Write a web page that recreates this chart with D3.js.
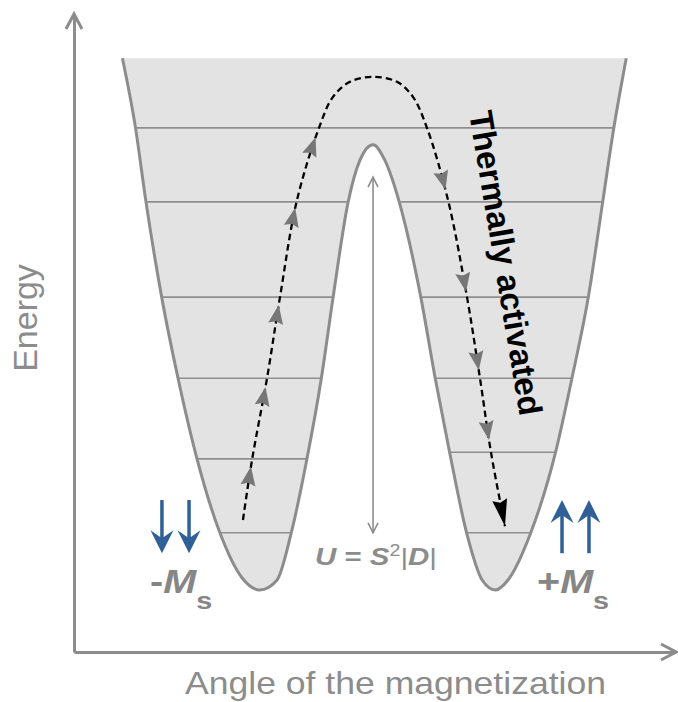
<!DOCTYPE html>
<html>
<head>
<meta charset="utf-8">
<script src="https://cdn.jsdelivr.net/npm/d3@7"></script>
<style>
  html, body { margin: 0; padding: 0; background: #fff; }
  svg { display: block; }
</style>
</head>
<body>
<svg id="chart" width="678" height="702"></svg>
<script>
// Double-well anisotropy potential: energy versus magnetization angle.

// Outline of the potential (angle in degrees, energy in arbitrary units)
const wellAngle = [-193, -183, -175, -163, -150.5, -136, -118.5, -101.5, -88, -75, -64, -52, -41, -32, -20.5, -11.5, -1.5,
                   7.5, 18.5, 35, 46, 57, 70, 82, 92, 101.5, 119, 138, 150.5, 163, 174, 182.5, 192];
const wellEnergy = [12, 10.43, 8.76, 6.61, 4.78, 2.96, 1.29, 0.27, 0, 0.22, 1.29, 2.96, 4.78, 6.61, 8.76, 9.7, 10.05,
                    9.7, 8.76, 6.61, 4.78, 3.11, 1.29, 0.22, 0, 0.22, 1.29, 3.11, 4.78, 6.61, 8.76, 10.43, 12];

// Discrete energy levels (Ms sublevels)
const levelsLeft = [1.29, 2.96, 4.78, 6.61, 8.76];
const levelsRight = [1.29, 3.11, 4.78, 6.61, 8.76];
const levelsAcross = [10.43];

// Thermally activated relaxation path over the barrier
const hopAngle = [-100.9, -94.0, -82.5, -72.6, -59.6, -42.8, -32.1, -19.1, -1.5, 16.8, 29.0, 39.7, 55.8, 70.3, 80.2, 88.6, 99.3];
const hopEnergy = [1.58, 2.93, 4.78, 6.61, 8.80, 10.43, 11.13, 11.47, 11.58, 11.47, 11.13, 10.43, 8.80, 6.61, 4.78, 3.11, 1.44];
const hopUpArrows = [2.78, 4.58, 6.43, 8.62, 10.22];
const hopDownArrows = [9.03, 6.73, 4.96, 3.38];

// Barrier height marker
const barrierAngle = -1.5;
const barrierSpan = [1.29, 9.32];

// Spin orientation arrows for the two ground states
const spinDownAngles = [-162.8, -142.1];
const spinUpAngles = [142.9, 163.5];
const spinSpan = [0.83, 2.03];

const xLabel = "Angle of the magnetization";
const yLabel = "Energy";
const pathLabel = "Thermally activated";

const GRAY = "#8c8c8c";
const FONT = "'Liberation Sans', Arial, Helvetica, sans-serif";

const x = d3.scaleLinear().domain([-230, 230]).range([74, 676]);
const y = d3.scaleLinear().domain([-1.4, 13]).range([652, 14]);

const svg = d3.select("#chart");
const defs = svg.append("defs");

// ---- potential well ----
const wellPts = wellAngle.map((a, i) => [a, wellEnergy[i]]);
const wellLine = d3.line().x(d => x(d[0])).y(d => y(d[1])).curve(d3.curveMonotoneX);
const wellD = wellLine(wellPts);

defs.append("clipPath").attr("id", "wellClip")
  .append("path").attr("d", wellD + "Z");

svg.append("path")
  .attr("d", wellD + "Z")
  .attr("fill", "#e3e3e3")
  .attr("stroke", "none");

const levelG = svg.append("g").attr("clip-path", "url(#wellClip)")
  .attr("stroke", "#8f8f8f").attr("stroke-width", 1.6);

const [xMin, xMax] = x.domain();
levelsLeft.forEach(e => levelG.append("line")
  .attr("x1", x(xMin)).attr("x2", x(barrierAngle)).attr("y1", y(e)).attr("y2", y(e)));
levelsRight.forEach(e => levelG.append("line")
  .attr("x1", x(barrierAngle)).attr("x2", x(xMax)).attr("y1", y(e)).attr("y2", y(e)));
levelsAcross.forEach(e => levelG.append("line")
  .attr("x1", x(xMin)).attr("x2", x(xMax)).attr("y1", y(e)).attr("y2", y(e)));

svg.append("path")
  .attr("d", wellD)
  .attr("fill", "none")
  .attr("stroke", GRAY)
  .attr("stroke-width", 3)
  .attr("stroke-linejoin", "round");

// ---- axes ----
const xAxis = svg.append("g").attr("transform", `translate(0,${y(y.domain()[0])})`)
  .call(d3.axisBottom(x).tickValues([]).tickSizeOuter(0));
const yAxis = svg.append("g").attr("transform", `translate(${x(xMin)},0)`)
  .call(d3.axisLeft(y).tickValues([]).tickSizeOuter(0));
[xAxis, yAxis].forEach(g => g.select(".domain").attr("stroke", GRAY).attr("stroke-width", 3));

const ax0 = x(xMin), ay0 = y(y.domain()[0]), ax1 = x(xMax), ay1 = y(y.domain()[1]);
svg.append("path")
  .attr("d", `M${ax0 - 8},${ay1 + 15}L${ax0},${ay1}L${ax0 + 8},${ay1 + 15}`)
  .attr("fill", "none").attr("stroke", GRAY).attr("stroke-width", 3);
svg.append("path")
  .attr("d", `M${ax1 - 15},${ay0 - 8}L${ax1},${ay0}L${ax1 - 15},${ay0 + 8}`)
  .attr("fill", "none").attr("stroke", GRAY).attr("stroke-width", 3);

svg.append("text")
  .attr("transform", `translate(37,${(ay0 + ay1) / 2 - 15}) rotate(-90)`)
  .attr("text-anchor", "middle")
  .attr("font-family", FONT).attr("font-size", 34)
  .attr("fill", GRAY)
  .text(yLabel);

svg.append("text")
  .attr("x", 185).attr("y", 694)
  .attr("font-family", FONT).attr("font-size", 32)
  .attr("textLength", 421).attr("lengthAdjust", "spacingAndGlyphs")
  .attr("fill", GRAY)
  .text(xLabel);

// ---- barrier height marker ----
const bx = x(barrierAngle), bTop = y(barrierSpan[1]), bBot = y(barrierSpan[0]);
svg.append("line")
  .attr("x1", bx).attr("x2", bx).attr("y1", bTop).attr("y2", bBot)
  .attr("stroke", GRAY).attr("stroke-width", 1.6);
svg.append("path")
  .attr("d", `M${bx - 5},${bTop + 10}L${bx},${bTop}L${bx + 5},${bTop + 10}M${bx - 5},${bBot - 10}L${bx},${bBot}L${bx + 5},${bBot - 10}`)
  .attr("fill", "none").attr("stroke", GRAY).attr("stroke-width", 1.6);

const uText = svg.append("text")
  .attr("x", bx + 3).attr("y", y(0.56))
  .attr("text-anchor", "middle")
  .attr("font-family", FONT).attr("font-size", 24)
  .attr("fill", GRAY)
  .attr("textLength", 122).attr("lengthAdjust", "spacingAndGlyphs");
uText.append("tspan").attr("font-weight", "bold").attr("font-style", "italic").text("U");
uText.append("tspan").attr("font-weight", "bold").text(" = ");
uText.append("tspan").attr("font-weight", "bold").attr("font-style", "italic").text("S");
uText.append("tspan").attr("font-size", 16).attr("dy", -9).text("2");
uText.append("tspan").attr("dy", 9).text("|");
uText.append("tspan").attr("font-weight", "bold").attr("font-style", "italic").text("D");
uText.append("tspan").text("|");

// ---- relaxation path ----
const hopPts = hopAngle.map((a, i) => [a, hopEnergy[i]]);
const hopLine = d3.line().x(d => x(d[0])).y(d => y(d[1])).curve(d3.curveCatmullRom.alpha(0.5));
const hopPath = svg.append("path")
  .attr("d", hopLine(hopPts))
  .attr("fill", "none")
  .attr("stroke", "#000")
  .attr("stroke-width", 2.3)
  .attr("stroke-dasharray", "6.5,4");

const node = hopPath.node();
const L = node.getTotalLength();
const samples = d3.range(0, L, 0.5).map(l => node.getPointAtLength(l));
samples.push(node.getPointAtLength(L));
const apex = d3.minIndex(samples, p => p.y);

function headAt(i, shape, fill) {
  const p0 = samples[Math.max(0, i - 8)], p1 = samples[i];
  const ang = Math.atan2(p1.y - p0.y, p1.x - p0.x) * 180 / Math.PI;
  svg.append("path")
    .attr("d", shape)
    .attr("fill", fill)
    .attr("transform", `translate(${p1.x},${p1.y}) rotate(${ang})`);
}
function indexForEnergy(e, lo, hi) {
  const ty = y(e);
  let best = lo, bd = Infinity;
  for (let i = lo; i <= hi; i++) {
    const d = Math.abs(samples[i].y - ty);
    if (d < bd) { bd = d; best = i; }
  }
  return best;
}
const grayHead = "M0,0L-19,-7.5L-16.5,0L-19,7.5Z";
hopUpArrows.forEach(e => headAt(indexForEnergy(e, 0, apex), grayHead, "#777"));
hopDownArrows.forEach(e => headAt(indexForEnergy(e, apex, samples.length - 1), grayHead, "#777"));
headAt(samples.length - 1, "M0,0L-27,-7.5L-24,0L-27,7.5Z", "#000");

// label along the path
svg.append("text")
  .attr("transform", `translate(469,113) rotate(80.5)`)
  .attr("font-family", FONT).attr("font-size", 33).attr("font-weight", "bold")
  .attr("fill", "#000")
  .text(pathLabel);

// ---- spin arrows ----
const BLUE = "#2f6096";
function spinArrow(a, down) {
  const cx = x(a);
  const yTop = y(spinSpan[1]), yBot = y(spinSpan[0]);
  const tip = down ? yBot : yTop, tail = down ? yTop : yBot;
  const s = down ? -1 : 1;
  svg.append("line")
    .attr("x1", cx).attr("x2", cx).attr("y1", tail).attr("y2", tip + s * 14)
    .attr("stroke", BLUE).attr("stroke-width", 3.5);
  svg.append("path")
    .attr("d", `M${cx},${tip}L${cx - 11.5},${tip + s * 23}L${cx},${tip + s * 15}L${cx + 11.5},${tip + s * 23}Z`)
    .attr("fill", BLUE);
}
spinDownAngles.forEach(a => spinArrow(a, true));
spinUpAngles.forEach(a => spinArrow(a, false));

function msLabel(sign, a) {
  const t = svg.append("text")
    .attr("transform", `translate(${x(a)},${y(-0.07)}) scale(1.2,1)`)
    .attr("font-family", FONT).attr("font-size", 33).attr("font-weight", "bold")
    .attr("fill", "#868686");
  t.append("tspan").text(sign);
  t.append("tspan").attr("font-style", "italic").text("M");
  t.append("tspan").attr("font-size", 24).attr("dx", 0).attr("dy", 16).text("s");
}
msLabel("-", -171.9);
msLabel("+", 123.8);
</script>
</body>
</html>
